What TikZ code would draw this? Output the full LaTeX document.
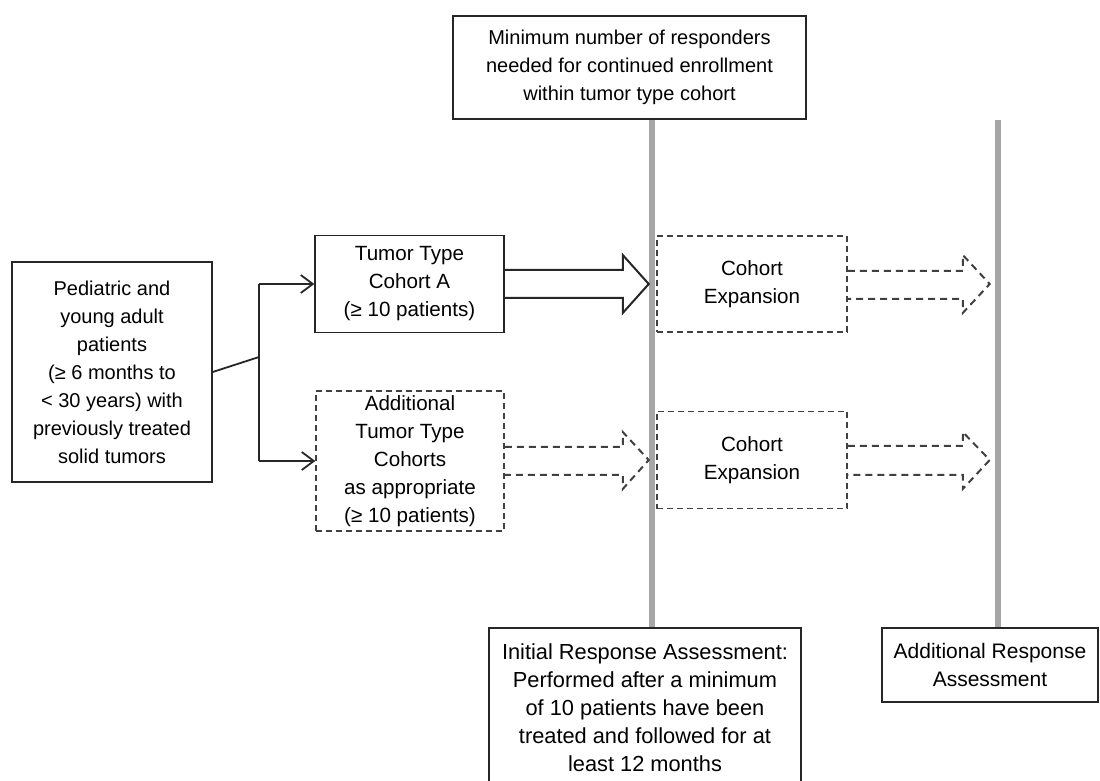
\documentclass[tikz,border=0pt]{standalone}
\usepackage{fontspec}
\setmainfont{Liberation Sans}
\usetikzlibrary{arrows.meta,calc}
\begin{document}
\begin{tikzpicture}[x=0.5pt,y=-0.5pt,
  box/.style={draw=black!85,line width=0.75pt,rectangle,inner sep=0pt,align=center,
    font=\fontsize{10}{14}\selectfont,fill=white},
  dbox/.style={box,dash pattern=on 3pt off 2pt,draw=black!75},
  hollow/.style={draw=black!85,line width=1pt,line join=miter},
  dhollow/.style={draw=black!75,line width=1pt,dash pattern=on 3.5pt off 2.5pt},
  grayline/.style={draw=black!35,line width=3pt},
  link/.style={draw=black!85,line width=0.9pt},
  linkarrow/.style={link,-{Straight Barb[length=6pt,width=9pt,line width=0.9pt]}}]
\useasboundingbox (0,0) rectangle (1100,781);

% guide coordinates for the two gray time lines
\coordinate (g1) at (652,0);
\coordinate (g2top) at (998,120);
\coordinate (j) at (259,357);

% boxes
\node[box,minimum width=176.5pt,minimum height=51.5pt] (top) at (629.5,67.5)
  {Minimum number of responders\\needed for continued enrollment\\within tumor type cohort};
\node[box,minimum width=100pt,minimum height=110pt] (pat) at (112,372)
  {Pediatric and\\young adult\\patients\\(≥ 6 months to\\< 30 years) with\\previously treated\\solid tumors};
\node[box,minimum width=94.5pt,minimum height=48.5pt,font=\fontsize{10.3}{14}\selectfont] (cA) at (409.5,284)
  {Tumor Type\\Cohort A\\(≥ 10 patients)};
\node[dbox,minimum width=94pt,minimum height=70pt,font=\fontsize{10.3}{14}\selectfont] (add) at (410,461)
  {Additional\\Tumor Type\\Cohorts\\as appropriate\\(≥ 10 patients)};
\node[dbox,minimum width=95pt,minimum height=48pt,font=\fontsize{10.3}{14}\selectfont] (ce1) at (752,284)
  {Cohort\\Expansion};
\node[dbox,minimum width=95pt,minimum height=48.5pt,font=\fontsize{10.3}{14}\selectfont] (ce2) at (752,460)
  {Cohort\\Expansion};
\node[box,minimum width=156pt,minimum height=80pt,font=\fontsize{10.9}{14}\selectfont] (init) at (645,708)
  {Initial Response Assessment:\\Performed after a minimum\\of 10 patients have been\\treated and followed for at\\least 12 months};
\node[box,minimum width=108pt,minimum height=37pt,font=\fontsize{10.5}{14}\selectfont] (addresp) at (990,665)
  {Additional Response\\Assessment};

% gray time lines
\draw[grayline] (top.south -| g1) -- (init.north -| g1);
\draw[grayline,line width=2.6pt] (g2top) -- (addresp.north -| g2top);

% branching connector
\draw[link] (pat.east) -- (j);
\draw[link] (j |- cA.west) -- (j |- add.west);
\draw[linkarrow] (j |- cA.west) -- (cA.west);
\draw[linkarrow] (j |- add.west) -- (add.west);

% hollow arrows
\draw[hollow] ($(cA.east)+(0,-14)$) -| ++(118,-15) -- ($(cA.east)+(144,0)$)
  -- ++(-26,29) |- ($(cA.east)+(0,14)$);
\draw[dhollow] ($(add.east)+(0,-14)$) -| ++(118,-15) -- ($(add.east)+(144,-1)$)
  -- ++(-26,29) |- ($(add.east)+(0,14)$);
\draw[dhollow] ($(ce1.east)+(0,-13)$) -| ++(115,-16) -- ($(ce1.east)+(142,0)$)
  -- ++(-27,29) |- ($(ce1.east)+(0,15)$);
\draw[dhollow] ($(ce2.east)+(0,-14)$) -| ++(115,-14) -- ($(ce2.east)+(142,0)$)
  -- ++(-27,29) |- ($(ce2.east)+(0,15)$);
\end{tikzpicture}
\end{document}
